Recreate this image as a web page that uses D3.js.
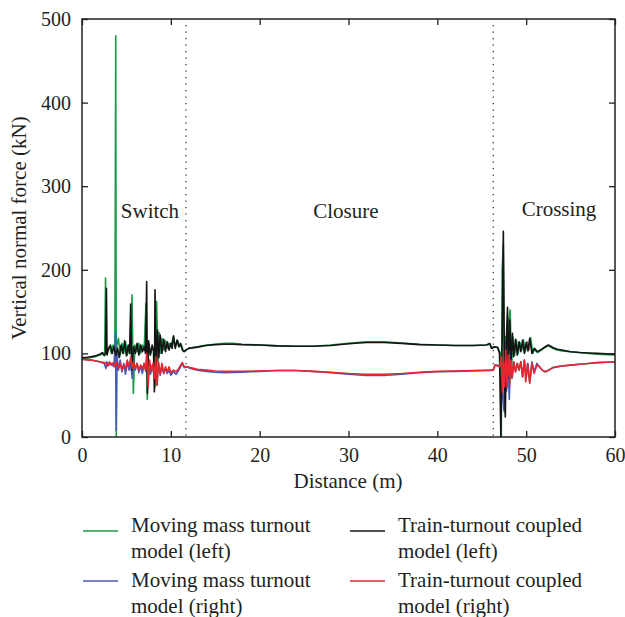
<!DOCTYPE html>
<html>
<head>
<meta charset="utf-8">
<script src="https://cdn.jsdelivr.net/npm/d3@7"></script>
<style>
  body { margin: 0; background: #fff; }
  text { font-family: "Liberation Serif", "DejaVu Serif", serif; fill: #231f20; }
</style>
</head>
<body>
<div id="chart"></div>
<script>
// Axis ticks
const xTicks = [0, 10, 20, 30, 40, 50, 60];
const yTicks = [0, 100, 200, 300, 400, 500];

// Section boundaries (m) and labels
const sectionLines = [11.7, 46.3];
const sectionLabels = [
    { name: "Switch", d: 7.65, v: 262 },
    { name: "Closure", d: 29.7, v: 262 },
    { name: "Crossing", d: 53.7, v: 264 }
];

// [distance (m), force (kN)]
const movingMassLeft = [
    [0, 94], [0.5, 94], [1, 95], [1.5, 96], [2, 98], [2.3, 99], [2.55, 97], [2.65, 190], [2.72, 100],
    [2.9, 104], [3.1, 108], [3.3, 100], [3.5, 110], [3.7, 103], [3.8, 480], [3.86, 0], [3.92, 110],
    [4.1, 118], [4.3, 98], [4.5, 112], [4.7, 100], [4.9, 114], [5.1, 98], [5.3, 108], [5.5, 100],
    [5.63, 170], [5.78, 52], [5.95, 110], [6.2, 102], [6.4, 112], [6.6, 100], [6.8, 110], [7, 104],
    [7.2, 160], [7.35, 45], [7.5, 112], [7.7, 100], [7.9, 108], [8.1, 104], [8.25, 60], [8.4, 162],
    [8.55, 90], [8.7, 125], [8.85, 100], [9, 118], [9.2, 104], [9.4, 115], [9.6, 106], [9.8, 112],
    [10, 108], [10.3, 120], [10.5, 108], [10.8, 115], [11, 108], [11.2, 110], [11.4, 103], [11.7, 104],
    [12, 106], [13, 108], [14, 110], [15, 111], [16, 112], [17, 112], [18, 111], [20, 110], [22, 109],
    [24, 108.5], [26, 108.5], [28, 110], [30, 112], [32, 114], [34, 114], [36, 112.5], [38, 111],
    [40, 110], [42, 109.5], [44, 109.5], [45.5, 110], [45.9, 111], [46.2, 106], [46.5, 108], [46.8, 107],
    [47.1, 100], [47.2, 0], [47.3, 200], [47.42, 230], [47.55, 30], [47.7, 120], [47.85, 60], [48.05, 140],
    [48.2, 152], [48.35, 80], [48.5, 120], [48.7, 98], [48.9, 116], [49.1, 100], [49.3, 113], [49.5, 104],
    [49.7, 116], [49.9, 102], [50.1, 114], [50.3, 104], [50.5, 119], [50.75, 100], [51, 106], [51.3, 101],
    [51.7, 104], [52.1, 107], [52.5, 109], [53, 106], [53.5, 104], [54, 103], [55, 102], [56, 101],
    [57, 100], [58, 99], [59, 98.5], [60, 98]
];

const movingMassRight = [
    [0, 93], [1, 92], [2, 90], [2.5, 88], [2.7, 82], [2.8, 90], [3, 86], [3.3, 88], [3.6, 84],
    [3.78, 124], [3.85, 8], [3.92, 100], [4.1, 80], [4.3, 92], [4.5, 78], [4.7, 88], [4.9, 75],
    [5.1, 90], [5.3, 80], [5.5, 88], [5.65, 70], [5.8, 92], [6, 80], [6.2, 88], [6.4, 77], [6.6, 85],
    [6.8, 76], [7, 88], [7.2, 78], [7.3, 98], [7.4, 60], [7.55, 90], [7.7, 75], [7.9, 86], [8.1, 74],
    [8.3, 98], [8.45, 62], [8.6, 88], [8.8, 74], [9, 84], [9.2, 76], [9.4, 82], [9.6, 76], [9.8, 80],
    [10, 74], [10.3, 78], [10.6, 75], [10.9, 80], [11.1, 84], [11.3, 88], [11.5, 83], [11.8, 84],
    [12.2, 82], [13, 80], [14, 78.5], [15, 77.5], [16, 77], [18, 77.5], [20, 78.5], [22, 79.5],
    [24, 79.5], [26, 78.5], [28, 77], [30, 75], [32, 73.5], [34, 73.5], [36, 75], [38, 77], [40, 78],
    [42, 78.5], [44, 79], [46, 79.5], [46.3, 80], [46.5, 86], [46.8, 86], [47, 84], [47.15, 95],
    [47.3, 55], [47.5, 32], [47.65, 114], [47.8, 55], [47.95, 100], [48.1, 45], [48.25, 95], [48.4, 70],
    [48.6, 90], [48.8, 78], [49, 88], [49.2, 80], [49.4, 90], [49.6, 72], [49.8, 92], [50, 70],
    [50.2, 88], [50.4, 66], [50.65, 90], [50.9, 78], [51.2, 88], [51.5, 84], [51.8, 80], [52.1, 78],
    [52.5, 80], [53, 83], [54, 85], [55, 86], [56, 87], [57, 88], [58, 89], [59, 89.5], [60, 90]
];

const coupledLeft = [
    [0, 95], [0.5, 95], [1, 96], [1.5, 97], [2, 99], [2.3, 101], [2.5, 98], [2.65, 100], [2.75, 178],
    [2.82, 98], [3, 106], [3.2, 110], [3.4, 100], [3.6, 108], [3.8, 98], [4, 106], [4.2, 95], [4.4, 110],
    [4.6, 100], [4.8, 115], [5, 97], [5.2, 110], [5.35, 100], [5.48, 159], [5.6, 80], [5.8, 108],
    [6, 100], [6.2, 112], [6.4, 98], [6.6, 110], [6.8, 102], [7, 108], [7.15, 100], [7.28, 186],
    [7.36, 52], [7.5, 115], [7.7, 98], [7.9, 110], [8.05, 102], [8.15, 54], [8.22, 176], [8.35, 80],
    [8.5, 128], [8.65, 95], [8.8, 122], [9, 100], [9.2, 117], [9.4, 102], [9.6, 114], [9.8, 104],
    [10, 112], [10.15, 106], [10.3, 121], [10.5, 106], [10.7, 116], [10.9, 108], [11.1, 112],
    [11.3, 104], [11.5, 102], [11.7, 104], [12, 106], [13, 107.5], [14, 109.5], [15, 110.5], [16, 111],
    [17, 111], [18, 110.5], [20, 110], [22, 109], [24, 108.5], [26, 108.5], [28, 109.5], [30, 111.5],
    [32, 113], [34, 113], [36, 112], [38, 110.5], [40, 110], [42, 109.5], [44, 109.5], [45.5, 110],
    [45.9, 112], [46.1, 106], [46.4, 108], [46.8, 107], [47, 100], [47.15, 0], [47.3, 120], [47.43, 246],
    [47.55, 90], [47.65, 24], [47.78, 120], [47.9, 155], [48, 70], [48.15, 140], [48.3, 90], [48.45, 124],
    [48.6, 96], [48.8, 117], [49, 98], [49.2, 114], [49.4, 102], [49.6, 116], [49.8, 100], [50, 113],
    [50.2, 103], [50.4, 118], [50.65, 100], [50.9, 106], [51.2, 102], [51.6, 104], [52, 107], [52.5, 110],
    [53, 107], [53.5, 105], [54, 104], [55, 102], [56, 101], [57, 100.5], [58, 100], [59, 99.5], [60, 99]
];

const coupledRight = [
    [0, 93], [1, 92], [2, 90], [2.5, 89], [2.7, 88], [2.9, 85], [3.1, 90], [3.3, 86], [3.5, 89],
    [3.7, 84], [3.9, 90], [4.1, 82], [4.3, 88], [4.5, 80], [4.7, 86], [4.9, 82], [5.1, 92], [5.3, 84],
    [5.5, 96], [5.65, 82], [5.8, 90], [6, 82], [6.2, 88], [6.4, 80], [6.6, 86], [6.8, 82], [7, 88],
    [7.15, 80], [7.3, 100], [7.45, 60], [7.6, 92], [7.8, 78], [8, 88], [8.15, 70], [8.3, 96], [8.45, 62],
    [8.6, 90], [8.8, 76], [9, 88], [9.2, 76], [9.4, 84], [9.6, 78], [9.8, 84], [10, 77], [10.3, 80],
    [10.6, 78], [10.9, 82], [11.1, 86], [11.3, 89], [11.5, 84], [11.8, 84], [12.2, 83], [13, 81],
    [14, 80], [15, 79], [16, 78.5], [18, 78.5], [20, 79], [22, 79.5], [24, 79.5], [26, 78.5], [28, 77.5],
    [30, 76], [32, 75], [34, 75], [36, 76], [38, 77.5], [40, 78.5], [42, 79], [44, 79.5], [46, 80],
    [46.3, 80], [46.5, 86], [46.8, 85], [47, 84], [47.2, 96], [47.32, 53], [47.45, 90], [47.58, 60],
    [47.7, 104], [47.85, 60], [48, 98], [48.15, 64], [48.3, 92], [48.45, 72], [48.6, 90], [48.8, 78],
    [49, 88], [49.2, 80], [49.4, 90], [49.6, 72], [49.8, 92], [49.95, 66], [50.15, 88], [50.4, 64],
    [50.65, 88], [50.9, 76], [51.2, 86], [51.5, 84], [51.8, 80], [52.2, 78], [52.6, 80], [53, 83],
    [54, 85], [55, 86], [56, 87], [57, 88], [58, 89], [59, 89.5], [60, 90]
];

const seriesNames = [
    "Moving mass turnout model (left)",
    "Moving mass turnout model (right)",
    "Train-turnout coupled model (left)",
    "Train-turnout coupled model (right)"
];
const seriesColors = ["#1b9a48", "#4a58b5", "#141414", "#e8262d"];
const seriesData = [movingMassLeft, movingMassRight, coupledLeft, coupledRight];

const width = 625, height = 617;
const margin = { top: 19, right: 10, bottom: 180, left: 82 };
const plotW = width - margin.left - margin.right;
const plotH = height - margin.top - margin.bottom;

const svg = d3.select("#chart").append("svg")
    .attr("width", width)
    .attr("height", height);

const x = d3.scaleLinear().domain([0, 60]).range([margin.left, margin.left + plotW]);
const y = d3.scaleLinear().domain([0, 500]).range([margin.top + plotH, margin.top]);

// clip so the spikes stay in the frame
svg.append("clipPath").attr("id", "clip")
    .append("rect")
    .attr("x", margin.left).attr("y", margin.top)
    .attr("width", plotW).attr("height", plotH);

// dotted section boundaries
svg.selectAll("line.section")
    .data(sectionLines)
    .enter()
    .append("line")
    .attr("class", "section")
    .attr("x1", d => x(d)).attr("x2", d => x(d))
    .attr("y1", y(500) + 6).attr("y2", y(0))
    .attr("stroke", "#333")
    .attr("stroke-width", 1.3)
    .attr("stroke-dasharray", "1.3,5.2");

const line = d3.line()
    .x(d => x(d[0]))
    .y(d => y(d[1]));

// draw order: green, blue, black, red
const order = [0, 1, 2, 3];
svg.append("g").attr("clip-path", "url(#clip)")
    .selectAll("path")
    .data(order)
    .enter()
    .append("path")
    .attr("d", i => line(seriesData[i]))
    .attr("fill", "none")
    .attr("stroke", i => seriesColors[i])
    .attr("stroke-width", 1.6)
    .attr("stroke-linejoin", "round");

// axes with inward ticks, mirrored on top and right
const tickLen = 6;
svg.append("g")
    .attr("transform", `translate(0,${y(0)})`)
    .call(d3.axisBottom(x).tickValues(xTicks).tickSizeInner(-tickLen).tickSizeOuter(0).tickPadding(11))
    .call(g => g.select(".domain").remove())
    .call(g => g.selectAll("text").attr("font-size", 20).attr("font-family", "Liberation Serif"));
svg.append("g")
    .attr("transform", `translate(0,${y(500)})`)
    .call(d3.axisTop(x).tickValues(xTicks).tickSizeInner(-tickLen).tickSizeOuter(0).tickFormat(""))
    .call(g => g.select(".domain").remove());
svg.append("g")
    .attr("transform", `translate(${x(0)},0)`)
    .call(d3.axisLeft(y).tickValues(yTicks).tickSizeInner(-tickLen).tickSizeOuter(0).tickPadding(11))
    .call(g => g.select(".domain").remove())
    .call(g => g.selectAll("text").attr("font-size", 20).attr("font-family", "Liberation Serif"));
svg.append("g")
    .attr("transform", `translate(${x(60)},0)`)
    .call(d3.axisRight(y).tickValues(yTicks).tickSizeInner(-tickLen).tickSizeOuter(0).tickFormat(""))
    .call(g => g.select(".domain").remove());
svg.selectAll(".tick line").attr("stroke", "#231f20").attr("stroke-width", 1.3);

// frame
svg.append("rect")
    .attr("x", margin.left).attr("y", margin.top)
    .attr("width", plotW).attr("height", plotH)
    .attr("fill", "none")
    .attr("stroke", "#231f20")
    .attr("stroke-width", 1.5);

// section labels
svg.selectAll("text.section")
    .data(sectionLabels)
    .enter()
    .append("text")
    .attr("class", "section")
    .attr("x", d => x(d.d))
    .attr("y", d => y(d.v))
    .attr("text-anchor", "middle")
    .attr("font-size", 21)
    .text(d => d.name);

// axis titles
svg.append("text")
    .attr("x", 348)
    .attr("y", 488)
    .attr("text-anchor", "middle")
    .attr("font-size", 21)
    .text("Distance (m)");
svg.append("text")
    .attr("transform", `translate(26,${y(250)}) rotate(-90)`)
    .attr("text-anchor", "middle")
    .attr("font-size", 21)
    .text("Vertical normal force (kN)");

// legend, two columns
const legendPos = [
    { lx: 83, tx: 131, ly: 531, ty: 532 },
    { lx: 83, tx: 131, ly: 581, ty: 587 },
    { lx: 350, tx: 398, ly: 531, ty: 532 },
    { lx: 350, tx: 398, ly: 581, ty: 587 }
];
const legend = svg.append("g");
seriesNames.forEach((name, i) => {
    const p = legendPos[i];
    legend.append("line")
        .attr("x1", p.lx).attr("x2", p.lx + 35)
        .attr("y1", p.ly).attr("y2", p.ly)
        .attr("stroke", seriesColors[i])
        .attr("stroke-width", 1.5);
    const parts = name.split(" model ");
    const t = legend.append("text")
        .attr("x", p.tx).attr("y", p.ty)
        .attr("font-size", 21);
    t.append("tspan").attr("x", p.tx).text(parts[0]);
    t.append("tspan").attr("x", p.tx).attr("dy", 26).text("model " + parts[1]);
});
</script>
</body>
</html>
